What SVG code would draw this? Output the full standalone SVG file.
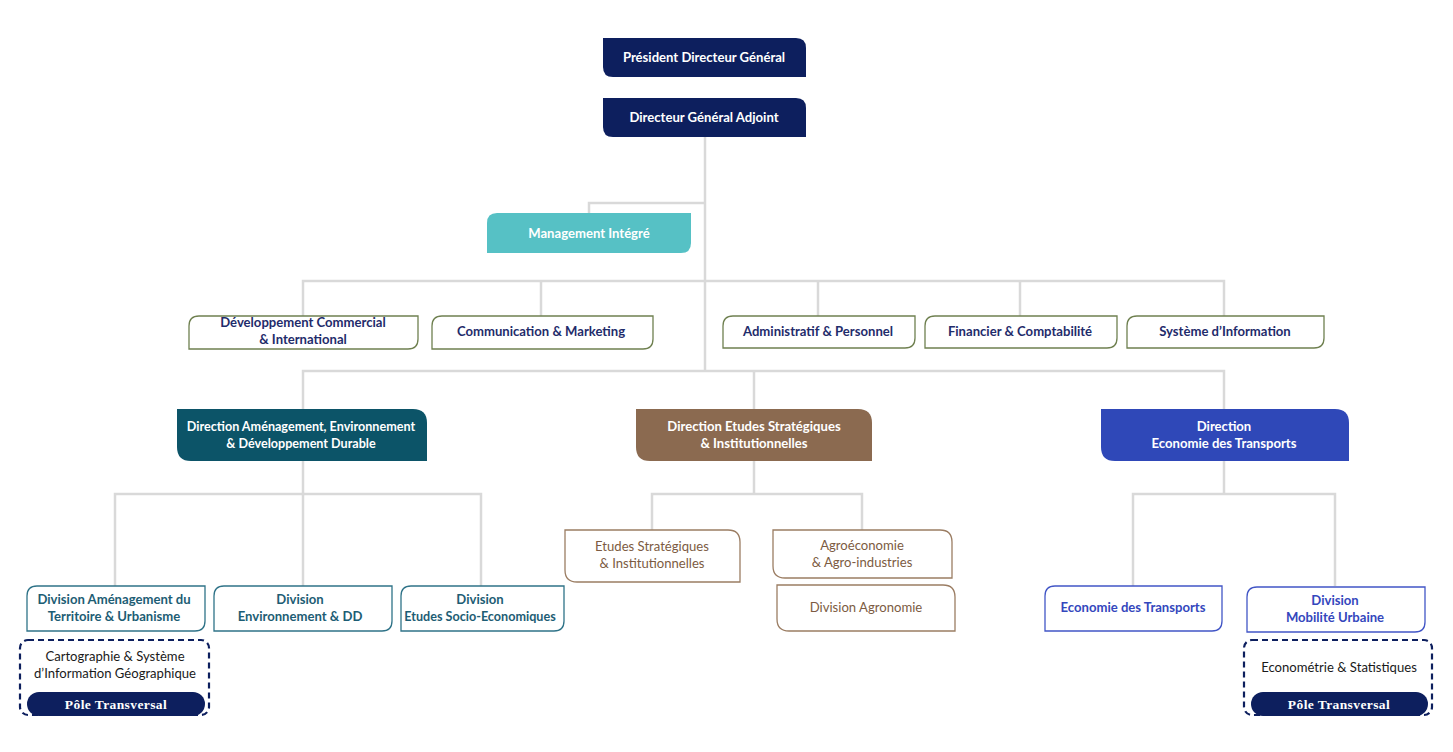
<svg xmlns="http://www.w3.org/2000/svg" width="1453" height="752" viewBox="0 0 1453 752">
<style>
text{font-family:Lato,"Open Sans","Liberation Sans",sans-serif;font-weight:bold;text-anchor:middle;font-size:13.1px}
.nar{font-size:12.6px}
.conn{fill:none;stroke:#d9d9d9;stroke-width:2.5}
.top{fill:#0d1f5e}
.w{fill:#ffffff}
.mgmt{fill:#56c1c5}
.r2{fill:#ffffff;stroke:#6f8050;stroke-width:1.3}
.t2{fill:#1f2c6b}
.dA{fill:#0c5468}
.dB{fill:#8b6a50}
.dC{fill:#2f48b8}
.sA{fill:#ffffff;stroke:#2f7388;stroke-width:1.3}
.tA{fill:#1d5d74}
.sB{fill:#ffffff;stroke:#9b7d63;stroke-width:1.3}
.tB{fill:#7c5b42;font-weight:normal}
.sC{fill:#ffffff;stroke:#4256c6;stroke-width:1.3}
.tC{fill:#3447bd}
.dash{fill:#ffffff;stroke:#0d1f5e;stroke-width:2.2;stroke-dasharray:6 4}
.pole{font-family:"Liberation Serif","DejaVu Serif",serif;font-weight:bold;font-size:13.5px;letter-spacing:0.4px;fill:#ffffff}
.blk{fill:#1a1a1a;font-weight:normal}
</style>
<g id="connectors">
<path class="conn" d="M705 137 V371"/>
<path class="conn" d="M705 203 H589 V213"/>
<path class="conn" d="M303 316 V281 H1224 V316 M541 281 V316 M818 281 V316 M1020 281 V316"/>
<path class="conn" d="M303 409 V371 H1224 V409 M754 371 V409"/>
<path class="conn" d="M303 461 V586 M303 494 H115 V586 M303 494 H481 V586"/>
<path class="conn" d="M754 461 V494 M652 530 V494 H862 V530"/>
<path class="conn" d="M1224 461 V494 M1133 586 V494 H1335 V586"/>
</g>
<g id="pdg">
<path class="top" d="M603 38 H796 Q806 38 806 48 V77 H613 Q603 77 603 67 Z"/>
<text class="w" x="704" y="62">Président Directeur Général</text>
</g>
<g id="dga">
<path class="top" d="M603 98 H796 Q806 98 806 108 V137 H613 Q603 137 603 127 Z"/>
<text class="w" x="704" y="122">Directeur Général Adjoint</text>
</g>
<g id="management">
<path class="mgmt" d="M497 213 H691 V243 Q691 253 681 253 H487 V223 Q487 213 497 213 Z"/>
<text class="w" x="589" y="238">Management Intégré</text>
</g>
<g id="dev-commercial">
<path class="r2" d="M199 316 H418 V339 Q418 349 408 349 H189 V326 Q189 316 199 316 Z"/>
<text class="t2" x="303" y="327">Développement Commercial</text>
<text class="t2" x="303" y="344">&amp; International</text>
</g>
<g id="communication">
<path class="r2" d="M442 316 H653 V339 Q653 349 643 349 H432 V326 Q432 316 442 316 Z"/>
<text class="t2" x="541" y="336">Communication &amp; Marketing</text>
</g>
<g id="administratif">
<path class="r2" d="M733 316 H915 V338 Q915 348 905 348 H723 V326 Q723 316 733 316 Z"/>
<text class="t2" x="818" y="336">Administratif &amp; Personnel</text>
</g>
<g id="financier">
<path class="r2" d="M935 316 H1117 V338 Q1117 348 1107 348 H925 V326 Q925 316 935 316 Z"/>
<text class="t2" x="1020" y="336">Financier &amp; Comptabilité</text>
</g>
<g id="systeme">
<path class="r2" d="M1137 316 H1324 V338 Q1324 348 1314 348 H1127 V326 Q1127 316 1137 316 Z"/>
<text class="t2" x="1225" y="336">Système d’Information</text>
</g>
<g id="dir-amenagement">
<path class="dA" d="M177 409 H413 Q427 409 427 423 V461 H191 Q177 461 177 447 Z"/>
<text class="w nar" x="301" y="431">Direction Aménagement, Environnement</text>
<text class="w nar" x="301" y="448">&amp; Développement Durable</text>
</g>
<g id="dir-etudes">
<path class="dB" d="M636 409 H858 Q872 409 872 423 V461 H650 Q636 461 636 447 Z"/>
<text class="w" x="754" y="431">Direction Etudes Stratégiques</text>
<text class="w" x="754" y="448">&amp; Institutionnelles</text>
</g>
<g id="dir-economie">
<path class="dC" d="M1101 409 H1335 Q1349 409 1349 423 V461 H1115 Q1101 461 1101 447 Z"/>
<text class="w" x="1224" y="431">Direction</text>
<text class="w" x="1224" y="448">Economie des Transports</text>
</g>
<g id="div-amenagement">
<path class="sA" d="M37 586 H205 V621 Q205 631 195 631 H27 V596 Q27 586 37 586 Z"/>
<text class="tA" x="114" y="604">Division Aménagement du</text>
<text class="tA" x="114" y="621">Territoire &amp; Urbanisme</text>
</g>
<g id="div-environnement">
<path class="sA" d="M224 586 H392 V621 Q392 631 382 631 H214 V596 Q214 586 224 586 Z"/>
<text class="tA" x="300" y="604">Division</text>
<text class="tA" x="300" y="621">Environnement &amp; DD</text>
</g>
<g id="div-socio">
<path class="sA" d="M411 586 H564 V621 Q564 631 554 631 H401 V596 Q401 586 411 586 Z"/>
<text class="tA" x="480" y="604">Division</text>
<text class="tA nar" x="480" y="621">Etudes Socio-Economiques</text>
</g>
<g id="pole-cartographie">
<rect class="dash" x="20" y="640" width="189" height="75" rx="8"/>
<text class="blk" x="115" y="661">Cartographie &amp; Système</text>
<text class="blk" x="115" y="678">d’Information Géographique</text>
<rect class="top" x="27" y="692" width="178" height="24" rx="12"/>
<text class="pole" x="116" y="709">Pôle Transversal</text>
</g>
<g id="etudes-strategiques">
<path class="sB" d="M565 530 H728 Q740 530 740 542 V582 H577 Q565 582 565 570 Z"/>
<text class="tB" x="652" y="551">Etudes Stratégiques</text>
<text class="tB" x="652" y="568">&amp; Institutionnelles</text>
</g>
<g id="agroeconomie">
<path class="sB" d="M773 530 H940 Q952 530 952 542 V578 H785 Q773 578 773 566 Z"/>
<text class="tB" x="862" y="550">Agroéconomie</text>
<text class="tB" x="862" y="567">&amp; Agro-industries</text>
</g>
<g id="div-agronomie">
<path class="sB" d="M777 585 H943 Q955 585 955 597 V631 H789 Q777 631 777 619 Z"/>
<text class="tB" x="866" y="612">Division Agronomie</text>
</g>
<g id="economie-transports">
<path class="sC" d="M1055 586 H1222 V621 Q1222 631 1212 631 H1045 V596 Q1045 586 1055 586 Z"/>
<text class="tC" x="1133" y="612">Economie des Transports</text>
</g>
<g id="div-mobilite">
<path class="sC" d="M1257 587 H1425 V622 Q1425 632 1415 632 H1247 V597 Q1247 587 1257 587 Z"/>
<text class="tC" x="1335" y="605">Division</text>
<text class="tC" x="1335" y="622">Mobilité Urbaine</text>
</g>
<g id="pole-econometrie">
<rect class="dash" x="1244" y="640" width="188" height="75" rx="8"/>
<text class="blk" x="1339" y="672">Econométrie &amp; Statistiques</text>
<rect class="top" x="1251" y="692" width="177" height="24" rx="12"/>
<text class="pole" x="1339" y="709">Pôle Transversal</text>
</g>
</svg>
